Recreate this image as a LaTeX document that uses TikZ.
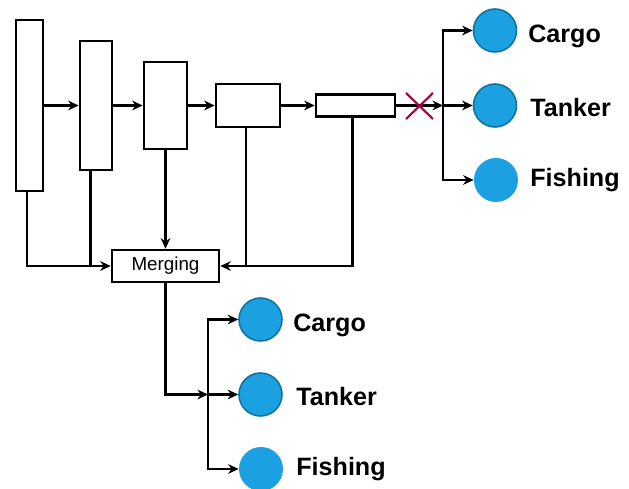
\documentclass[tikz,border=0pt]{standalone}
\usepackage{fontspec}
\setmainfont{Liberation Sans}
\usetikzlibrary{arrows.meta}
\definecolor{dotfill}{HTML}{1BA1E2}
\definecolor{dotline}{HTML}{10739E}
\definecolor{cutred}{HTML}{A50040}
\tikzset{
  layer/.style={draw, line width=1.5pt, inner sep=0pt},
  link/.style={line width=1.2pt},
  arr/.style={link, -{Stealth[length=6pt,width=5.5pt]}},
  dot/.style={circle, fill=dotfill, draw=dotline, line width=0.9pt, minimum size=0.86cm, inner sep=0pt},
  dotflat/.style={circle, fill=dotfill, minimum size=0.88cm, inner sep=0pt},
  cls/.style={anchor=base west, inner sep=0pt, font=\bfseries\fontsize{14.3}{17}\selectfont}
}
\begin{document}
\begin{tikzpicture}[x=0.02cm,y=-0.02cm]
\useasboundingbox (0,0) rectangle (629,489);

% feature maps
\node[layer, minimum width=0.54cm, minimum height=3.42cm] (b1) at (29.5,105.5) {};
\node[layer, minimum width=0.64cm, minimum height=2.58cm] (b2) at (96,105.5) {};
\node[layer, minimum width=0.86cm, minimum height=1.74cm] (b3) at (165.5,105.5) {};
\node[layer, minimum width=1.28cm, minimum height=0.86cm] (b4) at (248,105.5) {};
\node[layer, minimum width=1.58cm, minimum height=0.44cm] (b5) at (355.5,105.5) {};
\node[layer, minimum width=2.14cm, minimum height=0.64cm, font=\fontsize{10.7}{13}\selectfont] (mrg) at (165.5,266) {Merging};

\coordinate (jA) at (443,105.5);
\coordinate (jB) at (208,394.5);

\draw[arr] (b1) -- (b2);
\draw[arr] (b2) -- (b3);
\draw[arr] (b3) -- (b4);
\draw[arr] (b4) -- (b5);
\draw[arr] (b5) -- (jA);

% cut-off branch
\draw[cutred, line width=1.2pt] (406,93) -- (433,119);
\draw[cutred, line width=1.2pt] (406,119) -- (433,93);

% upper classes
\node[dot] (c1) at (495,30.5) {};
\node[dot] (c2) at (495,105.5) {};
\node[dotflat] (c3) at (496,180) {};
\draw[arr] (jA) |- (c1);
\draw[arr] (jA) -- (c2);
\draw[arr] (jA) |- (c3);
\node[cls] (t1) at (528,43) {Cargo};
\node[cls] (t2) at (530,117) {Tanker};
\node[cls] (t3) at (530,187) {Fishing};

% into merging
\draw[arr] ([xshift=-0.05cm]b1.south) |- (mrg.west);
\draw[link] ([xshift=-0.11cm]b2.south) -- ([xshift=-0.11cm]b2.south |- mrg.west);
\draw[arr] (b3) -- (mrg);
\draw[link] ([xshift=-0.04cm]b4.south) -- ([xshift=-0.04cm]b4.south |- mrg.east);
\draw[arr] ([xshift=-0.06cm]b5.south) |- (mrg.east);

% lower classes
\node[dot] (d1) at (260.5,319.5) {};
\node[dot] (d2) at (260.5,394.5) {};
\node[dotflat] (d3) at (261,469) {};
\draw[arr] (mrg) |- (jB);
\draw[arr] (jB) |- (d1);
\draw[arr] (jB) -- (d2);
\draw[arr] (jB) |- (d3);
\node[cls] (s1) at (293,332) {Cargo};
\node[cls] (s2) at (296,406) {Tanker};
\node[cls] (s3) at (296,476) {Fishing};
\end{tikzpicture}
\end{document}
